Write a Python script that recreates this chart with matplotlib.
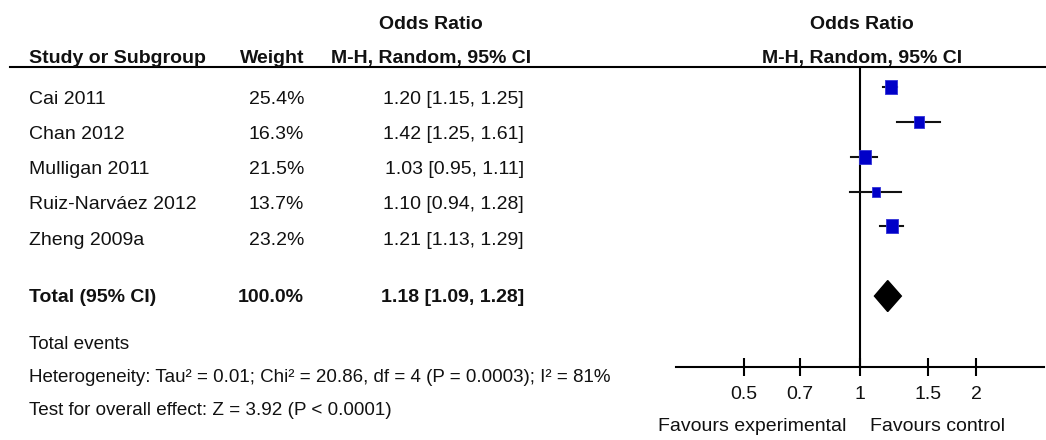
import numpy as np
import matplotlib
matplotlib.use('Agg')
import matplotlib.pyplot as plt
from matplotlib.lines import Line2D
from matplotlib.path import Path

plt.rcParams['font.family'] = ['Liberation Sans', 'DejaVu Sans']

# data
studies = ["Cai 2011", "Chan 2012", "Mulligan 2011", "Ruiz-Narváez 2012", "Zheng 2009a"]
weights = [25.4, 16.3, 21.5, 13.7, 23.2]
odds = [1.20, 1.42, 1.03, 1.10, 1.21]
ci_low = [1.15, 1.25, 0.95, 0.94, 1.13]
ci_high = [1.25, 1.61, 1.11, 1.28, 1.29]
total_or, total_low, total_high = 1.18, 1.09, 1.28
total_weight = 100.0
tick_vals = [0.5, 0.7, 1, 1.5, 2]
tick_labels = ["0.5", "0.7", "1", "1.5", "2"]

W, H = 1046, 440
fs = 14


def fx(x):
    return x / W


def fy(y):
    return 1 - y / H


fig = plt.figure(figsize=(W / 100, H / 100), dpi=100)


def txt(x, y, s, ha='left', bold=False, size=fs):
    fig.text(fx(x), fy(y), s, ha=ha, va='baseline', fontsize=size,
             fontweight='bold' if bold else 'normal', color='#111111')


# headers
txt(431, 29, "Odds Ratio", ha='center', bold=True)
txt(862, 29, "Odds Ratio", ha='center', bold=True)
txt(29, 63, "Study or Subgroup", bold=True)
txt(304, 63, "Weight", ha='right', bold=True)
txt(431, 63, "M-H, Random, 95% CI", ha='center', bold=True)
txt(862, 63, "M-H, Random, 95% CI", ha='center', bold=True)
fig.add_artist(Line2D([fx(10), fx(1046)], [fy(66.7), fy(66.7)], color='black', lw=1.5))

# study rows
for i, name in enumerate(studies):
    yb = 103.5 + 35.3 * i
    txt(29, yb, name)
    txt(304, yb, f"{weights[i]:.1f}%", ha='right')
    txt(524, yb, f"{odds[i]:.2f} [{ci_low[i]:.2f}, {ci_high[i]:.2f}]", ha='right')

txt(29, 302, "Total (95% CI)", bold=True)
txt(304, 302, f"{total_weight:.1f}%", ha='right', bold=True)
txt(524, 302, f"{total_or:.2f} [{total_low:.2f}, {total_high:.2f}]", ha='right', bold=True)
txt(29, 349, "Total events", size=13.6)
txt(29, 382, "Heterogeneity: Tau² = 0.01; Chi² = 20.86, df = 4 (P = 0.0003); I² = 81%", size=13.5)
txt(29, 415, "Test for overall effect: Z = 3.92 (P < 0.0001)", size=13.6)

# forest panel
ax = fig.add_axes([fx(676), fy(366.7), (1044 - 676) / W, (366.7 - 66.7) / H])
ax.set_xscale('log')
ax.set_xlim(1 / 3, 3)
ax.set_ylim(8.03, -0.59)
for s in ['top', 'left', 'right']:
    ax.spines[s].set_visible(False)
ax.spines['bottom'].set_linewidth(1.5)
ax.set_yticks([])
ax.set_xticks(tick_vals)
ax.set_xticklabels(tick_labels, fontsize=fs, color='#111111')
ax.xaxis.set_minor_locator(matplotlib.ticker.NullLocator())
ax.tick_params(axis='x', direction='inout', length=13.5, width=1.5, pad=7)
ax.axvline(1, color='black', lw=1.5)

rect = Path([(-0.41, -0.5), (0.41, -0.5), (0.41, 0.5), (-0.41, 0.5), (-0.41, -0.5)],
            [Path.MOVETO, Path.LINETO, Path.LINETO, Path.LINETO, Path.CLOSEPOLY])
for i in range(len(studies)):
    ax.plot([ci_low[i], ci_high[i]], [i, i], color='#111111', lw=1.5)
    ms = 10.6 * np.sqrt(weights[i] / weights[0])
    ax.plot(odds[i], i, marker=rect, markersize=ms, color='#0000C8',
            markeredgecolor='#3333D8', markeredgewidth=0.6)

ty = 6
dh = 0.445
ax.fill([total_low, total_or, total_high, total_or], [ty, ty - dh, ty, ty + dh],
        color='black')

txt(846, 431, "Favours experimental", ha='right')
txt(870, 431, "Favours control")

fig.savefig("out.png", dpi=100)
